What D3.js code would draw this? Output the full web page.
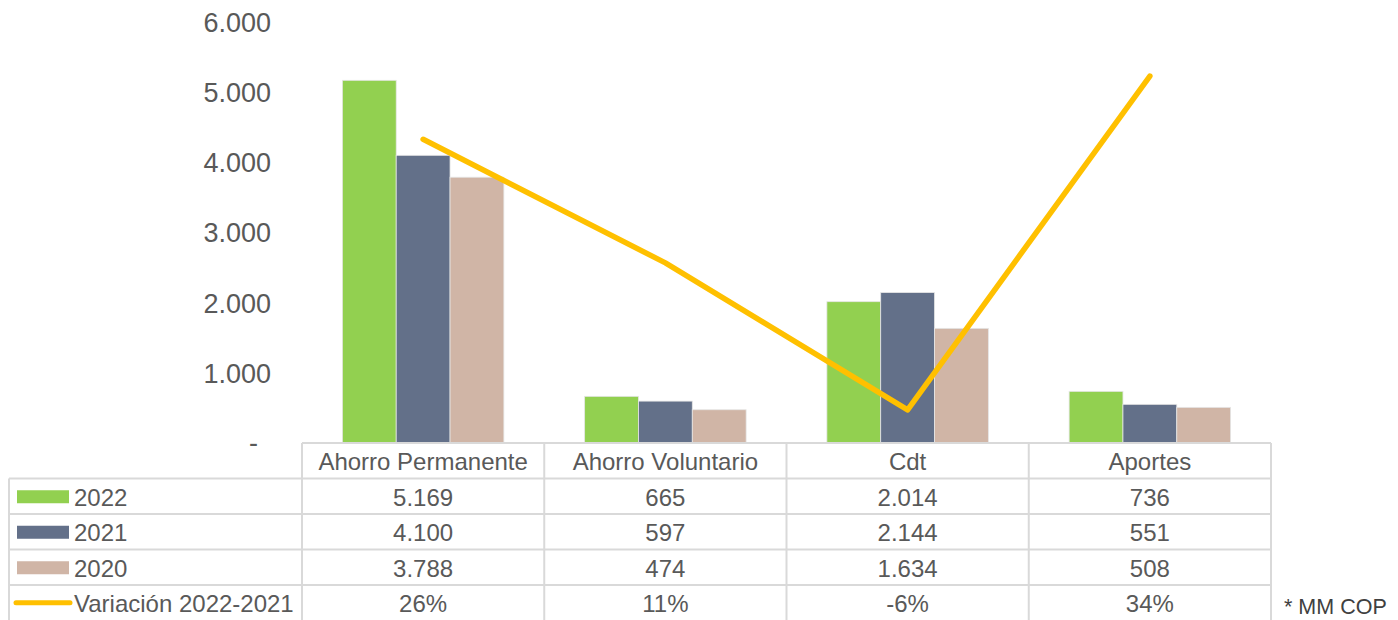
<!DOCTYPE html>
<html>
<head>
<meta charset="utf-8">
<script src="https://cdn.jsdelivr.net/npm/d3@7"></script>
<style>
  html, body { margin: 0; padding: 0; background: #ffffff; }
  svg { display: block; font-family: "Liberation Sans", Arial, sans-serif; }
</style>
</head>
<body>
<svg id="chart" width="1398" height="620"></svg>
<script>
const categories = ["Ahorro Permanente", "Ahorro Voluntario", "Cdt", "Aportes"];
const seriesNames = ["2022", "2021", "2020"];
const values2022 = [5169, 665, 2014, 736];
const values2021 = [4100, 597, 2144, 551];
const values2020 = [3788, 474, 1634, 508];
const variationName = "Variación 2022-2021";
const variation = [0.2607, 0.1139, -0.0606, 0.3358];
const yTicks = [0, 1000, 2000, 3000, 4000, 5000, 6000];
const note = "* MM COP";

const colors = ["#92D050", "#637089", "#D0B5A6"];
const lineColor = "#FFC000";
const textColor = "#595959";
const gridColor = "#D9D9D9";

const series = [values2022, values2021, values2020];

const svg = d3.select("#chart");
const plotLeft = 302, plotRight = 1271, plotTop = 22, plotBottom = 443;

const x = d3.scaleBand().domain(categories).range([plotLeft, plotRight]).paddingInner(0).paddingOuter(0);
const bandInner = 3 / 4.5;
const xs = d3.scaleBand().domain(seriesNames)
  .range([0, x.bandwidth() * bandInner]);
const groupOffset = x.bandwidth() * (1 - bandInner) / 2;

const y = d3.scaleLinear().domain([0, 6000]).range([plotBottom, plotTop]);
const y2 = d3.scaleLinear().domain([-0.1, 0.4]).range([plotBottom, plotTop]);

const fmtNum = d3.formatLocale({decimal: ",", thousands: ".", grouping: [3], currency: ["$", ""]}).format(",.0f");
const fmtPct = v => Math.round(v * 100) + "%";

// Y axis (no line, no ticks)
const yAxis = d3.axisLeft(y).tickValues(yTicks).tickSize(0).tickPadding(0)
  .tickFormat(d => d === 0 ? "-" : fmtNum(d));
const gy = svg.append("g").attr("transform", "translate(271,0)").call(yAxis);
gy.select(".domain").remove();
gy.selectAll("text").attr("fill", textColor).style("font-size", "27px")
  .style("font-family", '"Liberation Sans", Arial, sans-serif')
  .attr("dy", d => d === 0 ? "0.32em" : "0.35em")
  .attr("x", d => d === 0 ? -13 : 0);

// Bars
series.forEach((vals, si) => {
  svg.append("g").selectAll("rect").data(categories).join("rect")
    .attr("x", c => x(c) + groupOffset + xs(seriesNames[si]))
    .attr("y", (c, i) => y(vals[i]))
    .attr("width", xs.bandwidth())
    .attr("height", (c, i) => y(0) - y(vals[i]))
    .attr("fill", colors[si])
    .attr("stroke", "#E6E6E6").attr("stroke-width", 0.8);
});

// Line
const line = d3.line()
  .x((d, i) => x(categories[i]) + x.bandwidth() / 2)
  .y(d => y2(d));
svg.append("path").datum(variation)
  .attr("d", line).attr("fill", "none")
  .attr("stroke", lineColor).attr("stroke-width", 5.5)
  .attr("stroke-linecap", "round").attr("stroke-linejoin", "round");

// Data table
const rowTops = [443, 478.5, 514, 549.5, 585, 620.5];
const tableLeft = 9;
const tg = svg.append("g");
const cols = [plotLeft].concat(categories.map(c => x(c) + x.bandwidth()));

tg.append("line").attr("x1", plotLeft).attr("x2", plotRight).attr("y1", rowTops[0]).attr("y2", rowTops[0]);
rowTops.slice(1, 5).forEach(ry => {
  tg.append("line").attr("x1", tableLeft).attr("x2", plotRight).attr("y1", ry).attr("y2", ry);
});
cols.forEach(cx => {
  tg.append("line").attr("x1", cx).attr("x2", cx).attr("y1", rowTops[0]).attr("y2", 620);
});
tg.append("line").attr("x1", tableLeft).attr("x2", tableLeft).attr("y1", rowTops[1]).attr("y2", 620);
tg.selectAll("line").attr("stroke", gridColor).attr("stroke-width", 2);

const textStyle = sel => sel.attr("fill", textColor).style("font-size", "24px")
  .attr("dominant-baseline", "central");

tg.selectAll("text.hdr").data(categories).join("text").attr("class", "hdr")
  .attr("x", c => x(c) + x.bandwidth() / 2)
  .attr("y", (rowTops[0] + rowTops[1]) / 2 + 1)
  .attr("text-anchor", "middle").text(c => c).call(textStyle);

series.forEach((vals, si) => {
  const cy = (rowTops[si + 1] + rowTops[si + 2]) / 2 + 1;
  tg.append("rect").attr("x", 17).attr("y", cy - 7).attr("width", 52).attr("height", 13)
    .attr("fill", colors[si]);
  tg.append("text").attr("x", 74).attr("y", cy).text(seriesNames[si]).call(textStyle);
  tg.selectAll(null).data(categories).join("text")
    .attr("x", c => x(c) + x.bandwidth() / 2).attr("y", cy)
    .attr("text-anchor", "middle").text((c, i) => fmtNum(vals[i])).call(textStyle);
});

{
  const cy = (rowTops[4] + rowTops[5]) / 2 + 1;
  tg.append("line").attr("x1", 16).attr("x2", 70).attr("y1", cy - 1).attr("y2", cy - 1)
    .attr("stroke", lineColor).attr("stroke-width", 5).attr("stroke-linecap", "round");
  tg.append("text").attr("x", 74).attr("y", cy).text(variationName).call(textStyle);
  tg.selectAll(null).data(categories).join("text")
    .attr("x", c => x(c) + x.bandwidth() / 2).attr("y", cy)
    .attr("text-anchor", "middle").text((c, i) => fmtPct(variation[i])).call(textStyle);
}

svg.append("text").attr("x", 1284).attr("y", 614).text(note)
  .attr("fill", "#404040").style("font-size", "21.5px");
</script>
</body>
</html>
